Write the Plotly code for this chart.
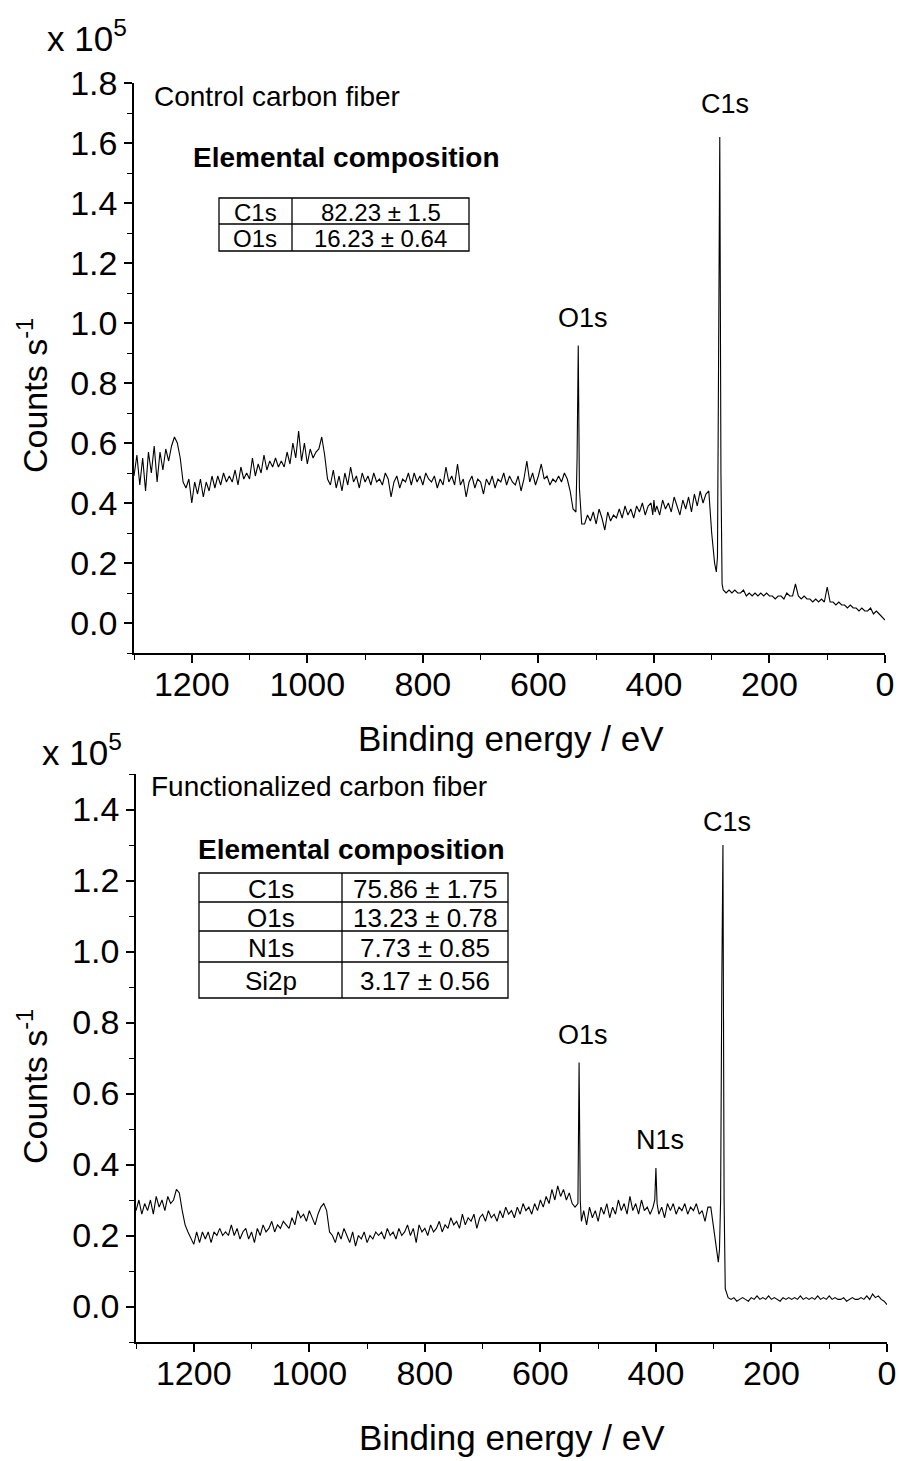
import plotly.graph_objects as go

W, H = 899, 1461
FONT = "Liberation Sans, Arial, sans-serif"

# binding energy grid (eV), shared by both survey spectra
energy_ev = [
    1300, 1295, 1290, 1285, 1280, 1275, 1270, 1265, 1260, 1255,
    1250, 1245, 1240, 1235, 1230, 1225, 1220, 1215, 1210, 1205,
    1200, 1195, 1190, 1185, 1180, 1175, 1170, 1165, 1160, 1155,
    1150, 1145, 1140, 1135, 1130, 1125, 1120, 1115, 1110, 1105,
    1100, 1095, 1090, 1085, 1080, 1075, 1070, 1065, 1060, 1055,
    1050, 1045, 1040, 1035, 1030, 1025, 1020, 1015, 1010, 1005,
    1000, 995, 990, 985, 980, 975, 970, 965, 960, 955,
    950, 945, 940, 935, 930, 925, 920, 915, 910, 905,
    900, 895, 890, 885, 880, 875, 870, 865, 860, 855,
    850, 845, 840, 835, 830, 825, 820, 815, 810, 805,
    800, 795, 790, 785, 780, 775, 770, 765, 760, 755,
    750, 745, 740, 735, 730, 725, 720, 715, 710, 705,
    700, 695, 690, 685, 680, 675, 670, 665, 660, 655,
    650, 645, 640, 635, 630, 625, 620, 615, 610, 605,
    600, 595, 590, 585, 580, 575, 570, 565, 560, 555,
    550, 545, 540, 535, 533, 531, 529, 525, 520, 515, 510, 505,
    500, 495, 490, 485, 480, 475, 470, 465, 460, 455,
    450, 445, 440, 435, 430, 425, 420, 415, 410,
    405, 402, 400, 398, 395, 390, 385, 380, 375, 370, 365, 360, 355,
    350, 345, 340, 335, 330, 325, 320, 315, 310, 305,
    300, 295, 292, 290, 288, 286, 284, 282, 280, 275,
    270, 265, 260, 255, 250, 245, 240, 235, 230, 225,
    220, 215, 210, 205, 200, 195, 190, 185, 180, 175,
    170, 165, 160, 155, 150, 145, 140, 135, 130, 125,
    120, 115, 110, 105, 100, 95, 90, 85, 80, 75,
    70, 65, 60, 55, 50, 45, 40, 35, 30, 25,
    20, 15, 10, 5, 0,
]

# counts s^-1 (x 10^5), control carbon fiber
control_counts = [
    0.49, 0.56, 0.46, 0.55, 0.44, 0.57, 0.50, 0.59, 0.47, 0.57,
    0.51, 0.58, 0.54, 0.59, 0.62, 0.60, 0.55, 0.47, 0.45, 0.48,
    0.40, 0.47, 0.43, 0.48, 0.42, 0.47, 0.44, 0.49, 0.45, 0.49,
    0.46, 0.50, 0.47, 0.49, 0.47, 0.51, 0.46, 0.52, 0.48, 0.50,
    0.48, 0.55, 0.49, 0.53, 0.50, 0.56, 0.51, 0.54, 0.52, 0.55,
    0.52, 0.54, 0.52, 0.57, 0.53, 0.60, 0.55, 0.64, 0.54, 0.60,
    0.53, 0.58, 0.55, 0.57, 0.58, 0.62, 0.56, 0.48, 0.46, 0.51,
    0.45, 0.49, 0.44, 0.50, 0.46, 0.52, 0.47, 0.49, 0.45, 0.50,
    0.47, 0.49, 0.46, 0.50, 0.47, 0.48, 0.46, 0.50, 0.48, 0.42,
    0.47, 0.49, 0.45, 0.48, 0.47, 0.50, 0.46, 0.50, 0.47, 0.49,
    0.46, 0.50, 0.48, 0.47, 0.49, 0.45, 0.48, 0.46, 0.52, 0.47,
    0.49, 0.46, 0.53, 0.46, 0.48, 0.42, 0.47, 0.49, 0.45, 0.48,
    0.47, 0.43, 0.48, 0.46, 0.49, 0.45, 0.48, 0.47, 0.50, 0.46,
    0.49, 0.47, 0.46, 0.49, 0.44, 0.48, 0.54, 0.47, 0.50, 0.46,
    0.49, 0.53, 0.48, 0.49, 0.46, 0.48, 0.47, 0.49, 0.47, 0.50,
    0.48, 0.44, 0.38, 0.37, 0.55, 0.925, 0.45, 0.33, 0.33, 0.36, 0.34, 0.37,
    0.33, 0.38, 0.35, 0.31, 0.37, 0.34, 0.36, 0.35, 0.38, 0.35,
    0.39, 0.36, 0.38, 0.35, 0.39, 0.37, 0.40, 0.36, 0.39,
    0.40, 0.36, 0.41, 0.37, 0.39, 0.36, 0.41, 0.38, 0.40, 0.37, 0.42, 0.39, 0.36,
    0.41, 0.38, 0.42, 0.37, 0.43, 0.39, 0.44, 0.40, 0.43, 0.44,
    0.30, 0.20, 0.17, 0.22, 0.90, 1.62, 0.50, 0.13, 0.11, 0.10,
    0.11, 0.10, 0.11, 0.10, 0.10, 0.11, 0.09, 0.10, 0.09, 0.10,
    0.09, 0.10, 0.09, 0.10, 0.09, 0.09, 0.08, 0.09, 0.09, 0.08,
    0.10, 0.09, 0.09, 0.13, 0.09, 0.08, 0.09, 0.08, 0.08, 0.07,
    0.08, 0.07, 0.08, 0.07, 0.12, 0.07, 0.07, 0.06, 0.07, 0.06,
    0.06, 0.05, 0.06, 0.05, 0.05, 0.04, 0.05, 0.04, 0.04, 0.05,
    0.03, 0.04, 0.03, 0.02, 0.01,
]

# counts s^-1 (x 10^5), functionalized carbon fiber
functional_counts = [
    0.27, 0.30, 0.26, 0.29, 0.27, 0.30, 0.26, 0.31, 0.28, 0.30,
    0.27, 0.31, 0.29, 0.30, 0.33, 0.32, 0.27, 0.23, 0.21, 0.19,
    0.175, 0.21, 0.18, 0.21, 0.19, 0.21, 0.18, 0.21, 0.20, 0.22,
    0.20, 0.21, 0.20, 0.23, 0.20, 0.22, 0.19, 0.21, 0.22, 0.19,
    0.21, 0.18, 0.22, 0.20, 0.23, 0.21, 0.22, 0.24, 0.21, 0.23,
    0.22, 0.24, 0.23, 0.22, 0.25, 0.23, 0.27, 0.25, 0.26, 0.24,
    0.27, 0.25, 0.23, 0.26, 0.28, 0.29, 0.27, 0.21, 0.20, 0.18,
    0.21, 0.19, 0.22, 0.20, 0.18, 0.21, 0.17, 0.20, 0.19, 0.21,
    0.18, 0.20, 0.19, 0.21, 0.20, 0.21, 0.19, 0.22, 0.20, 0.21,
    0.19, 0.22, 0.20, 0.21, 0.23, 0.20, 0.22, 0.18, 0.23, 0.21,
    0.22, 0.20, 0.23, 0.21, 0.22, 0.24, 0.21, 0.23, 0.22, 0.25,
    0.23, 0.24, 0.22, 0.26, 0.23, 0.25, 0.24, 0.26, 0.22, 0.25,
    0.26, 0.24, 0.27, 0.25, 0.26, 0.24, 0.27, 0.25, 0.28, 0.26,
    0.27, 0.25, 0.28, 0.26, 0.29, 0.27, 0.28, 0.26, 0.29, 0.27,
    0.30, 0.28, 0.31, 0.29, 0.33, 0.30, 0.34, 0.31, 0.33, 0.30,
    0.32, 0.29, 0.28, 0.29, 0.687, 0.30, 0.24, 0.27, 0.23, 0.28, 0.25, 0.27,
    0.24, 0.28, 0.26, 0.29, 0.25, 0.28, 0.26, 0.30, 0.27, 0.29,
    0.26, 0.31, 0.27, 0.29, 0.26, 0.30, 0.27, 0.28, 0.26,
    0.28, 0.30, 0.39, 0.29, 0.26, 0.28, 0.25, 0.29, 0.27, 0.29, 0.26, 0.28, 0.27,
    0.29, 0.26, 0.28, 0.27, 0.29, 0.26, 0.27, 0.24, 0.28, 0.28,
    0.22, 0.15, 0.125, 0.16, 0.30, 0.90, 1.30, 0.30, 0.05, 0.025,
    0.02, 0.025, 0.015, 0.02, 0.025, 0.02, 0.015, 0.025, 0.02, 0.03,
    0.02, 0.025, 0.02, 0.03, 0.02, 0.025, 0.02, 0.015, 0.025, 0.02,
    0.025, 0.02, 0.025, 0.02, 0.03, 0.02, 0.025, 0.02, 0.025, 0.02,
    0.03, 0.02, 0.025, 0.02, 0.03, 0.02, 0.025, 0.02, 0.02, 0.025,
    0.015, 0.02, 0.025, 0.02, 0.02, 0.025, 0.02, 0.03, 0.02, 0.035,
    0.025, 0.03, 0.02, 0.015, 0.005,
]

assert len(energy_ev) == len(control_counts) == len(functional_counts)

control_table = [("C1s", "82.23 ± 1.5"), ("O1s", "16.23 ± 0.64")]
functional_table = [("C1s", "75.86 ± 1.75"), ("O1s", "13.23 ± 0.78"),
                    ("N1s", "7.73 ± 0.85"), ("Si2p", "3.17 ± 0.56")]


# pixel -> paper fraction
def px(x):
    return x / W


def py(y):
    return 1 - y / H


fig = go.Figure()
fig.add_trace(go.Scatter(x=energy_ev, y=control_counts, mode="lines",
                         line=dict(color="black", width=1.1), xaxis="x", yaxis="y",
                         showlegend=False))
fig.add_trace(go.Scatter(x=energy_ev, y=functional_counts, mode="lines",
                         line=dict(color="black", width=1.1), xaxis="x2", yaxis="y2",
                         showlegend=False))

tickfont = dict(family=FONT, size=34, color="black")


def xax(dom, anchor):
    return dict(domain=dom, anchor=anchor, range=[1300, 0], dtick=200, tick0=0,
                ticks="outside", ticklen=8, tickwidth=1.5, tickcolor="black",
                minor=dict(dtick=100, tick0=0, ticks="outside", ticklen=5,
                           tickwidth=1.2, tickcolor="black"),
                showline=True, linecolor="black", linewidth=1.5, ticklabelstandoff=-8,
                ticklabeloverflow="allow",
                showgrid=False, zeroline=False, tickfont=tickfont, automargin=False)


def yax(dom, anchor, top):
    return dict(domain=dom, anchor=anchor, range=[-0.1, top], dtick=0.2, tick0=0,
                tickformat=".1f", ticks="outside", ticklen=8, tickwidth=1.5,
                tickcolor="black",
                minor=dict(dtick=0.1, tick0=0, ticks="outside", ticklen=5,
                           tickwidth=1.2, tickcolor="black"),
                showline=True, linecolor="black", linewidth=1.5,
                showgrid=False, zeroline=False, tickfont=tickfont, automargin=False)


fig.update_layout(
    width=W, height=H, margin=dict(l=0, r=0, t=0, b=0), autosize=False,
    paper_bgcolor="white", plot_bgcolor="white",
    xaxis=xax([px(134), px(885)], "y"),
    yaxis=yax([py(653), py(83)], "x", 1.8),
    xaxis2=xax([px(136), px(887)], "y2"),
    yaxis2=yax([py(1342), py(774)], "x2", 1.5),
)

notes = []


def note(text, x, y, size, xanchor="center", angle=0):
    notes.append(dict(text=text, x=px(x), y=py(y), xref="paper", yref="paper",
                      xanchor=xanchor, yanchor="middle", showarrow=False,
                      textangle=angle, font=dict(family=FONT, size=size, color="black")))


# axis titles and multipliers
for yc, xc in [(738, 511), (1437, 512)]:
    note("Binding energy / eV", xc, yc, 35)
note("Counts s<sup>-1</sup>", 32, 396, 34, angle=-90)
note("Counts s<sup>-1</sup>", 32, 1087, 34, angle=-90)
note("x 10<sup>5</sup>", 87, 36, 35)
note("x 10<sup>5</sup>", 82, 750, 35)

# panel labels
note("Control carbon fiber", 152, 97, 28, xanchor="left")
note("Functionalized carbon fiber", 149, 786, 28, xanchor="left")
note("<b>Elemental composition</b>", 191, 157, 28, xanchor="left")
note("<b>Elemental composition</b>", 196, 849, 28, xanchor="left")

# peak labels
note("C1s", 725, 104, 27)
note("O1s", 583, 318, 27)
note("C1s", 727, 822, 27)
note("O1s", 583, 1035, 27)
note("N1s", 660, 1140, 27)

shapes = []


def table(rows, left, mid, right, lines, size):
    lw = dict(color="black", width=1.3)
    shapes.append(dict(type="rect", xref="paper", yref="paper", x0=px(left), x1=px(right),
                       y0=py(lines[-1]), y1=py(lines[0]), line=lw))
    shapes.append(dict(type="line", xref="paper", yref="paper", x0=px(mid), x1=px(mid),
                       y0=py(lines[-1]), y1=py(lines[0]), line=lw))
    for yl in lines[1:-1]:
        shapes.append(dict(type="line", xref="paper", yref="paper", x0=px(left), x1=px(right),
                           y0=py(yl), y1=py(yl), line=lw))
    for (el, val), y0, y1 in zip(rows, lines[:-1], lines[1:]):
        yc = (y0 + y1) / 2 + 1
        note(el, (left + mid) / 2, yc, size)
        note(val, (mid + right) / 2, yc, size)


table(control_table, 219, 292, 469, [198, 224, 251], 24)
table(functional_table, 199, 342, 508, [873, 902, 931, 962, 998], 26)

fig.update_layout(annotations=notes, shapes=shapes)
# drop the default body margin so the 899x1461 figure fills the window exactly
fig.write_html("out.html", config={"displayModeBar": False},
               post_script="document.body.style.margin = '0';")
